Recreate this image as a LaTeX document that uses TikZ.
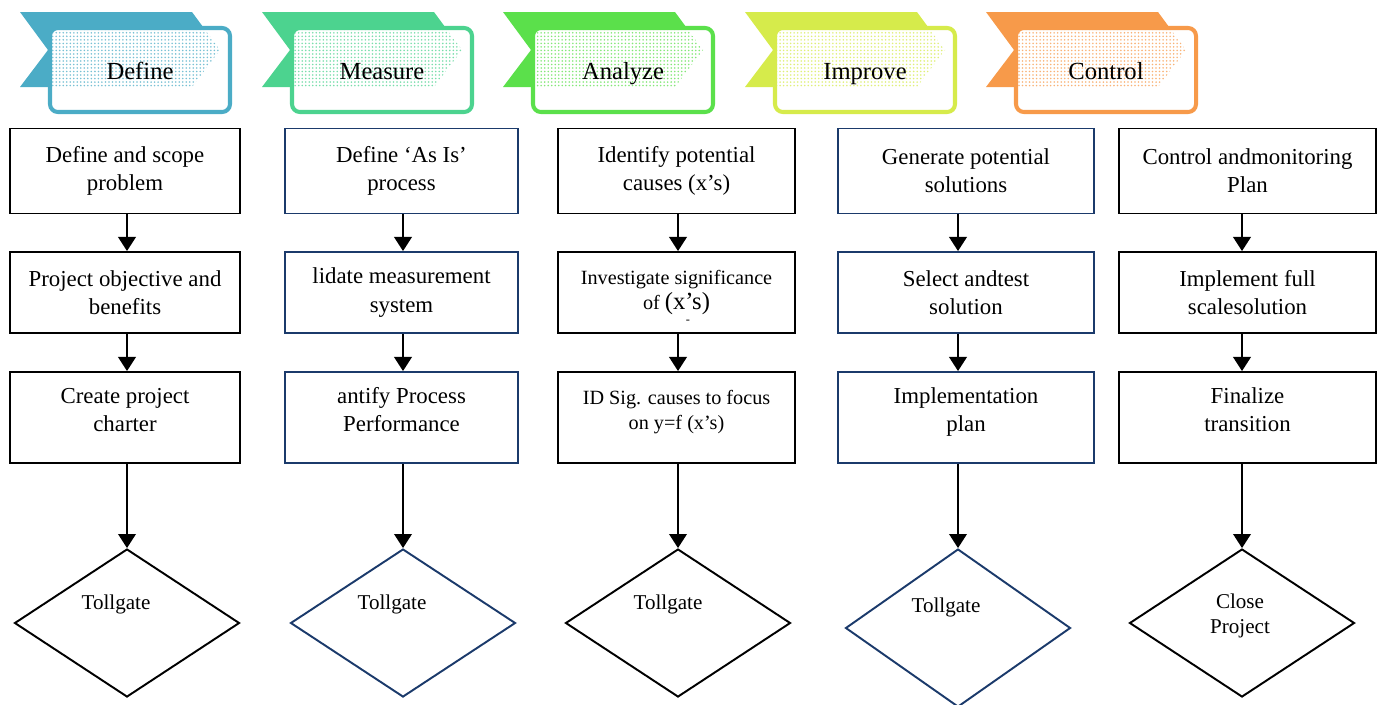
\documentclass[tikz,border=0pt]{standalone}
\usepackage{fontspec}
\setmainfont{Liberation Serif}
\usetikzlibrary{shapes.geometric,arrows.meta,patterns.meta}

\definecolor{cdef}{HTML}{4BACC6}
\definecolor{cmea}{HTML}{4CD38F}
\definecolor{cana}{HTML}{5BE04B}
\definecolor{cimp}{HTML}{D6EB4B}
\definecolor{cctl}{HTML}{F79A4A}
\definecolor{navy}{HTML}{1B3A6B}

\tikzset{
  stage/.style={draw, line width=1.1pt, fill=white, align=center, inner sep=0pt,
    font=\fontsize{13}{16}\selectfont},
  navystage/.style={stage, draw=navy},
  rowa/.style={minimum height=1.7cm},
  rowb/.style={minimum height=1.62cm},
  rowc/.style={minimum height=1.82cm, text depth=9pt},
  small/.style={font=\fontsize{11.5}{14}\selectfont},
  gate/.style={diamond, draw, line width=1.1pt, inner sep=0pt, minimum width=4.5cm, minimum height=2.96cm},
  gatetext/.style={font=\fontsize{12}{14.2}\selectfont, align=center, inner sep=0pt},
  headtext/.style={font=\fontsize{14}{16}\selectfont, inner sep=0pt, anchor=base},
  flow/.style={line width=1.1pt, -{Triangle[length=8pt,width=10pt]}}
}

\begin{document}
\begin{tikzpicture}[x=0.02cm, y=-0.02cm]
\useasboundingbox (0,0) rectangle (1378,704);

% phase headers
\foreach \L/\name/\col [count=\i] in {20/Define/cdef, 262/Measure/cmea, 503/Analyze/cana, 745/Improve/cimp, 986/Control/cctl}{
  \fill[\col] (\L,12) -- ++(172,0) -- ++(28,38) -- ++(-28,37) -- ++(-172,0) -- ++(28,-37) -- cycle;
  \draw[\col, line width=2.3pt, fill=white, rounded corners=4.5pt] (\L+30,28) rectangle (\L+210,112);
  \begin{scope}
    \clip[rounded corners=3pt] (\L+32,30) rectangle (\L+208,110);
    \fill[pattern={Dots[distance=2pt,radius=0.5pt]}, pattern color=\col!75]
      (\L,12) -- ++(172,0) -- ++(28,38) -- ++(-28,37) -- ++(-172,0) -- ++(28,-37) -- cycle;
  \end{scope}
  \node[headtext] (h\i) at (\L+120,79) {\name};
}

% Define
\node[stage, rowa, minimum width=4.6cm] (def1) at (125,171) {Define and scope\\problem};
\node[stage, rowb, minimum width=4.6cm] (def2) at (125,292.5) {Project objective and\\benefits};
\node[stage, rowc, minimum width=4.6cm] (def3) at (125,417.5) {Create project\\charter};
\node[gate] (gdef) at (127,623) {};
\node[gatetext] (tdef) at (116,604) {Tollgate};

% Measure
\node[navystage, rowa, minimum width=4.66cm] (mea1) at (401.5,171) {Define `As Is'\\process};
\node[navystage, rowb, minimum width=4.66cm] (mea2) at (401.5,292.5) {lidate measurement\\system};
\node[navystage, rowc, minimum width=4.66cm] (mea3) at (401.5,417.5) {antify Process\\Performance};
\node[gate, draw=navy] (gmea) at (403,623) {};
\node[gatetext] (tmea) at (392,604) {Tollgate};

% Analyze
\node[stage, rowa, minimum width=4.74cm] (ana1) at (676.5,171) {Identify potential\\causes (x's)};
\node[stage, rowb, small, minimum width=4.74cm] (ana2) at (676.5,292.5) {Investigate significance\\of {\fontsize{14}{14}\selectfont(x's)}};
\node[font=\scriptsize, inner sep=0pt] (anadot) at (688,322) {-};
\node[stage, rowc, small, minimum width=4.74cm] (ana3) at (676.5,417.5) {ID Sig. causes to focus\\on y=f (x's)};
\node[gate] (gana) at (678,623) {};
\node[gatetext] (tana) at (668,604) {Tollgate};

% Improve
\node[navystage, rowa, minimum width=5.12cm] (imp1) at (966,171) {Generate potential\\solutions};
\node[navystage, rowb, minimum width=5.12cm] (imp2) at (966,292.5) {Select andtest\\solution};
\node[navystage, rowc, minimum width=5.12cm] (imp3) at (966,417.5) {Implementation\\plan};
\node[gate, draw=navy, minimum height=3.16cm] (gimp) at (958,628) {};
\node[gatetext] (timp) at (946,607) {Tollgate};

% Control
\node[stage, rowa, minimum width=5.14cm] (ctl1) at (1247.5,171) {Control andmonitoring\\Plan};
\node[stage, rowb, minimum width=5.14cm] (ctl2) at (1247.5,292.5) {Implement full\\scalesolution};
\node[stage, rowc, minimum width=5.14cm] (ctl3) at (1247.5,417.5) {Finalize\\transition};
\node[gate] (gctl) at (1242,623) {};
\node[gatetext] (tctl) at (1240,616) {Close\\Project};

% arrows
\foreach \c in {def,mea,ana,imp,ctl}{
  \draw[flow] (\c1.south -| g\c.north) -- (\c2.north -| g\c.north);
  \draw[flow] (\c2.south -| g\c.north) -- (\c3.north -| g\c.north);
  \draw[flow] (\c3.south -| g\c.north) -- (g\c.north);
}
\end{tikzpicture}
\end{document}
